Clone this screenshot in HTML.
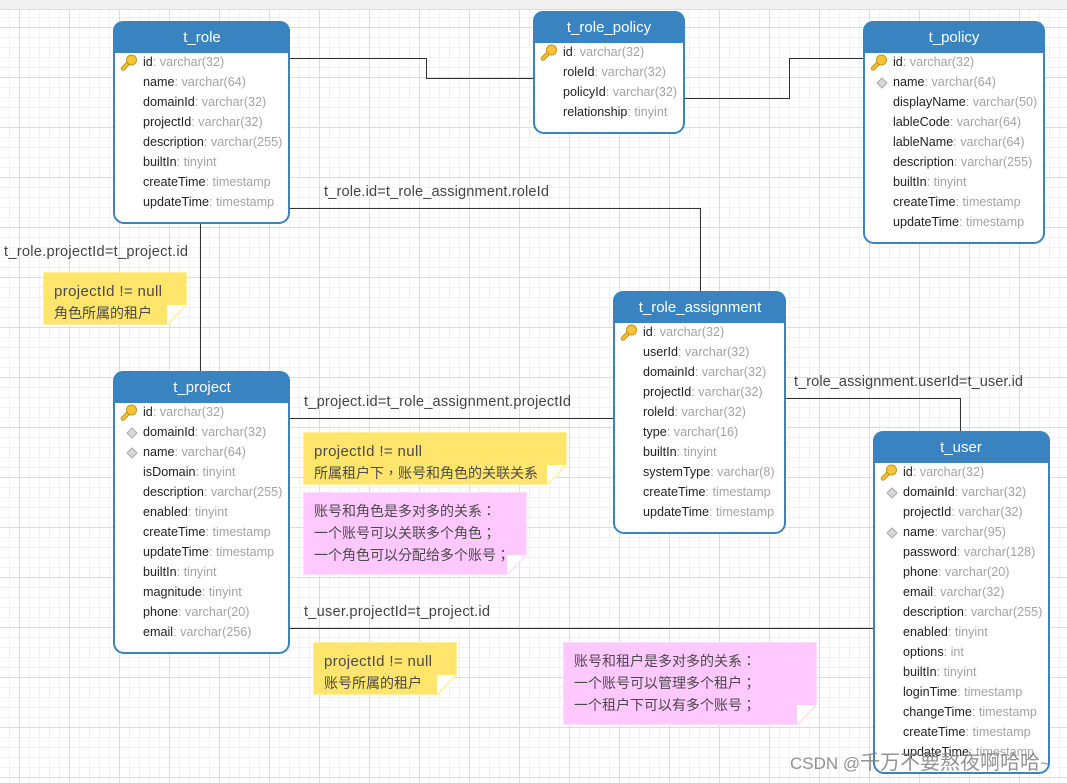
<!DOCTYPE html>
<html><head><meta charset="utf-8"><style>
html,body{margin:0;padding:0;background:#fff}
svg{display:block}
text{font-family:"Liberation Sans","Noto Sans CJK TC",sans-serif}
.r text,.r{font-size:12.6px;fill:#222}
.r tspan{fill:#a3a3a3}
.h{font-size:15px;fill:#fff;text-anchor:middle}
.l{font-size:14.6px;fill:#444}
.n{font-size:15px;fill:#4a4a4a}
.c{font-size:14px;fill:#4a4a4a}
.e{fill:none;stroke:#333;stroke-width:1}
.t{fill:#fff;stroke:#3a83c0;stroke-width:2}
.f{fill:none;stroke:#fff09c;stroke-width:1.5}
.g{fill:none;stroke:#ffdcff;stroke-width:1.5}
</style></head><body>
<svg width="1067" height="783" viewBox="0 0 1067 783" xmlns="http://www.w3.org/2000/svg">
<defs>
<pattern id="minor" x="9" y="7" width="10" height="10" patternUnits="userSpaceOnUse"><path d="M.5 0V10M0 .5H10" fill="none" stroke="#f1f1f1"/></pattern>
<pattern id="major" x="19" y="27" width="50" height="50" patternUnits="userSpaceOnUse"><path d="M.5 0V50M0 .5H50" fill="none" stroke="#dcdcdc"/></pattern>
<g id="key"><path d="M2 13.500L8 7.500" stroke="#c4931a" stroke-width="4.500" stroke-linecap="round"/><path d="M2 13.500L8 7.500" stroke="#f5c030" stroke-width="2.500" stroke-linecap="round"/><circle cx="10.500" cy="5" r="5" fill="#f7c433" stroke="#c4931a"/></g>
<path id="dia" d="M0-5L5 0L0 5L-5 0Z" fill="#d8d8d8" stroke="#aaa"/>
</defs>
<rect width="1067" height="783" fill="#fff"/>
<rect width="1067" height="783" fill="url(#minor)"/>
<rect width="1067" height="783" fill="url(#major)"/>
<rect width="1067" height="9" fill="#f0f0f0"/>
<rect y="9" width="1067" height="1" fill="#dedede"/>

<!-- connectors -->
<path class="e" d="M290 58.500H426.500V78.500H534M685 98.500H789.500V58.500H864M290 208.500H700.500V291M200.500 224V371M290 418.500H614M785 398.500H960.500V431M290 628.500H874"/>

<!-- labels -->
<text class="l" x="324" y="196" textLength="225">t_role.id=t_role_assignment.roleId</text>
<text class="l" x="4" y="256" textLength="184">t_role.projectId=t_project.id</text>
<text class="l" x="304" y="406" textLength="267">t_project.id=t_role_assignment.projectId</text>
<text class="l" x="794" y="386" textLength="229">t_role_assignment.userId=t_user.id</text>
<text class="l" x="304" y="616" textLength="186">t_user.projectId=t_project.id</text>

<!-- notes -->
<path d="M43.500 272.500H186.500V304.500L167.500 324.500H43.500Z" fill="#ffe56c" stroke="#fff09c"/><path d="M167 324V305H186Z" fill="#fff"/><path class="f" d="M186.500 304.500L167.500 324.500"/>
<text class="n" x="54" y="296" textLength="108">projectId != null</text><text class="c" x="54" y="318">角色所属的租户</text>
<path d="M303.500 432.500H566.500V464.500L547.500 484.500H303.500Z" fill="#ffe56c" stroke="#fff09c"/><path d="M547 484V465H566Z" fill="#fff"/><path class="f" d="M566.500 464.500L547.500 484.500"/>
<text class="n" x="314" y="456" textLength="108">projectId != null</text><text class="c" x="314" y="478">所属租户下，账号和角色的关联关系</text>
<path d="M303.500 492.500H526.500V554.500L507.500 574.500H303.500Z" fill="#ffc8ff" stroke="#ffdcff"/><path d="M507 574V555H526Z" fill="#fff"/><path class="g" d="M526.500 554.500L507.500 574.500"/>
<text class="c" x="314" y="516">账号和角色是多对多的关系：</text><text class="c" x="314" y="538">一个账号可以关联多个角色；</text><text class="c" x="314" y="560">一个角色可以分配给多个账号；</text>
<path d="M313.500 642.500H456.500V674.500L437.500 694.500H313.500Z" fill="#ffe56c" stroke="#fff09c"/><path d="M437 694V675H456Z" fill="#fff"/><path class="f" d="M456.500 674.500L437.500 694.500"/>
<text class="n" x="324" y="666" textLength="108">projectId != null</text><text class="c" x="324" y="688">账号所属的租户</text>
<path d="M563.500 642.500H816.500V704.500L797.500 724.500H563.500Z" fill="#ffc8ff" stroke="#ffdcff"/><path d="M797 724V705H816Z" fill="#fff"/><path class="g" d="M816.500 704.500L797.500 724.500"/>
<text class="c" x="574" y="666">账号和租户是多对多的关系：</text><text class="c" x="574" y="688">一个账号可以管理多个租户；</text><text class="c" x="574" y="710">一个租户下可以有多个账号；</text>

<!-- t_role -->
<rect class="t" x="114" y="22" width="175" height="201" rx="10"/>
<path d="M113 53V31a10 10 0 0 1 10-10H280a10 10 0 0 1 10 10V53Z" fill="#3883c0"/>
<text class="h" x="202" y="42">t_role</text>
<use href="#key" x="121" y="55"/>
<g class="r">
<text x="143" y="66">id<tspan>: varchar(32)</tspan></text>
<text x="143" y="86">name<tspan>: varchar(64)</tspan></text>
<text x="143" y="106">domainId<tspan>: varchar(32)</tspan></text>
<text x="143" y="126">projectId<tspan>: varchar(32)</tspan></text>
<text x="143" y="146">description<tspan>: varchar(255)</tspan></text>
<text x="143" y="166">builtIn<tspan>: tinyint</tspan></text>
<text x="143" y="186">createTime<tspan>: timestamp</tspan></text>
<text x="143" y="206">updateTime<tspan>: timestamp</tspan></text>
</g>

<!-- t_role_policy -->
<rect class="t" x="534" y="12" width="150" height="121" rx="10"/>
<path d="M533 43V21a10 10 0 0 1 10-10H675a10 10 0 0 1 10 10V43Z" fill="#3883c0"/>
<text class="h" x="609" y="32">t_role_policy</text>
<use href="#key" x="541" y="45"/>
<g class="r">
<text x="563" y="56">id<tspan>: varchar(32)</tspan></text>
<text x="563" y="76">roleId<tspan>: varchar(32)</tspan></text>
<text x="563" y="96">policyId<tspan>: varchar(32)</tspan></text>
<text x="563" y="116">relationship<tspan>: tinyint</tspan></text>
</g>

<!-- t_policy -->
<rect class="t" x="864" y="22" width="180" height="221" rx="10"/>
<path d="M863 53V31a10 10 0 0 1 10-10H1035a10 10 0 0 1 10 10V53Z" fill="#3883c0"/>
<text class="h" x="954" y="42">t_policy</text>
<use href="#key" x="871" y="55"/>
<use href="#dia" x="882" y="83"/>
<g class="r">
<text x="893" y="66">id<tspan>: varchar(32)</tspan></text>
<text x="893" y="86">name<tspan>: varchar(64)</tspan></text>
<text x="893" y="106">displayName<tspan>: varchar(50)</tspan></text>
<text x="893" y="126">lableCode<tspan>: varchar(64)</tspan></text>
<text x="893" y="146">lableName<tspan>: varchar(64)</tspan></text>
<text x="893" y="166">description<tspan>: varchar(255)</tspan></text>
<text x="893" y="186">builtIn<tspan>: tinyint</tspan></text>
<text x="893" y="206">createTime<tspan>: timestamp</tspan></text>
<text x="893" y="226">updateTime<tspan>: timestamp</tspan></text>
</g>

<!-- t_role_assignment -->
<rect class="t" x="614" y="292" width="171" height="241" rx="10"/>
<path d="M613 323V301a10 10 0 0 1 10-10H776a10 10 0 0 1 10 10V323Z" fill="#3883c0"/>
<text class="h" x="700" y="312">t_role_assignment</text>
<use href="#key" x="621" y="325"/>
<g class="r">
<text x="643" y="336">id<tspan>: varchar(32)</tspan></text>
<text x="643" y="356">userId<tspan>: varchar(32)</tspan></text>
<text x="643" y="376">domainId<tspan>: varchar(32)</tspan></text>
<text x="643" y="396">projectId<tspan>: varchar(32)</tspan></text>
<text x="643" y="416">roleId<tspan>: varchar(32)</tspan></text>
<text x="643" y="436">type<tspan>: varchar(16)</tspan></text>
<text x="643" y="456">builtIn<tspan>: tinyint</tspan></text>
<text x="643" y="476">systemType<tspan>: varchar(8)</tspan></text>
<text x="643" y="496">createTime<tspan>: timestamp</tspan></text>
<text x="643" y="516">updateTime<tspan>: timestamp</tspan></text>
</g>

<!-- t_project -->
<rect class="t" x="114" y="372" width="175" height="281" rx="10"/>
<path d="M113 403V381a10 10 0 0 1 10-10H280a10 10 0 0 1 10 10V403Z" fill="#3883c0"/>
<text class="h" x="202" y="392">t_project</text>
<use href="#key" x="121" y="405"/>
<use href="#dia" x="132" y="433"/>
<use href="#dia" x="132" y="453"/>
<g class="r">
<text x="143" y="416">id<tspan>: varchar(32)</tspan></text>
<text x="143" y="436">domainId<tspan>: varchar(32)</tspan></text>
<text x="143" y="456">name<tspan>: varchar(64)</tspan></text>
<text x="143" y="476">isDomain<tspan>: tinyint</tspan></text>
<text x="143" y="496">description<tspan>: varchar(255)</tspan></text>
<text x="143" y="516">enabled<tspan>: tinyint</tspan></text>
<text x="143" y="536">createTime<tspan>: timestamp</tspan></text>
<text x="143" y="556">updateTime<tspan>: timestamp</tspan></text>
<text x="143" y="576">builtIn<tspan>: tinyint</tspan></text>
<text x="143" y="596">magnitude<tspan>: tinyint</tspan></text>
<text x="143" y="616">phone<tspan>: varchar(20)</tspan></text>
<text x="143" y="636">email<tspan>: varchar(256)</tspan></text>
</g>

<!-- t_user -->
<rect class="t" x="874" y="432" width="175" height="341" rx="10"/>
<path d="M873 463V441a10 10 0 0 1 10-10H1040a10 10 0 0 1 10 10V463Z" fill="#3883c0"/>
<text class="h" x="961" y="452">t_user</text>
<use href="#key" x="881" y="465"/>
<use href="#dia" x="892" y="493"/>
<use href="#dia" x="892" y="533"/>
<g class="r">
<text x="903" y="476">id<tspan>: varchar(32)</tspan></text>
<text x="903" y="496">domainId<tspan>: varchar(32)</tspan></text>
<text x="903" y="516">projectId<tspan>: varchar(32)</tspan></text>
<text x="903" y="536">name<tspan>: varchar(95)</tspan></text>
<text x="903" y="556">password<tspan>: varchar(128)</tspan></text>
<text x="903" y="576">phone<tspan>: varchar(20)</tspan></text>
<text x="903" y="596">email<tspan>: varchar(32)</tspan></text>
<text x="903" y="616">description<tspan>: varchar(255)</tspan></text>
<text x="903" y="636">enabled<tspan>: tinyint</tspan></text>
<text x="903" y="656">options<tspan>: int</tspan></text>
<text x="903" y="676">builtIn<tspan>: tinyint</tspan></text>
<text x="903" y="696">loginTime<tspan>: timestamp</tspan></text>
<text x="903" y="716">changeTime<tspan>: timestamp</tspan></text>
<text x="903" y="736">createTime<tspan>: timestamp</tspan></text>
<text x="903" y="756">updateTime<tspan>: timestamp</tspan></text>
</g>

<!-- watermark -->
<text x="790" y="769" font-size="17" fill="#7f7f7f" fill-opacity=".85">CSDN @<tspan font-size="20">千万不要熬夜啊哈哈</tspan>~</text>
</svg>
</body></html>
